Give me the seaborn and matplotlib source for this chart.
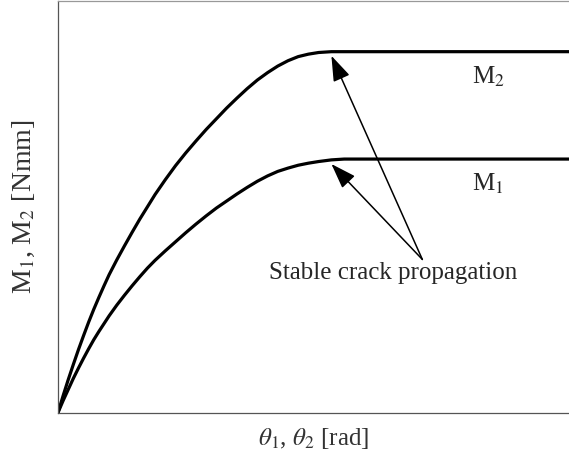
import matplotlib
matplotlib.use("Agg")
import matplotlib.pyplot as plt
import seaborn as sns
import pandas as pd

# Rotation (normalised) and the moment of each arm (normalised)
theta = [0.0, 0.01, 0.02, 0.03, 0.04, 0.05, 0.06, 0.07, 0.08, 0.09, 0.10,
         0.115, 0.13, 0.145, 0.16, 0.175, 0.19, 0.21, 0.23, 0.25, 0.27, 0.29,
         0.31, 0.33, 0.35, 0.37, 0.39, 0.41, 0.43, 0.45, 0.47, 0.49, 0.51,
         0.535, 0.56, 1.0]
moment_1 = [0.0, 0.029, 0.056, 0.083, 0.108, 0.132, 0.155, 0.177, 0.197, 0.216,
            0.235, 0.261, 0.285, 0.308, 0.330, 0.351, 0.370, 0.393, 0.415,
            0.437, 0.458, 0.478, 0.497, 0.514, 0.531, 0.547, 0.562, 0.575,
            0.586, 0.594, 0.601, 0.606, 0.610, 0.614, 0.616, 0.616]
moment_2 = [0.0, 0.041, 0.080, 0.117, 0.153, 0.187, 0.220, 0.251, 0.280, 0.308,
            0.335, 0.371, 0.405, 0.438, 0.470, 0.500, 0.530, 0.566, 0.600,
            0.631, 0.660, 0.688, 0.714, 0.740, 0.764, 0.787, 0.808, 0.826,
            0.842, 0.855, 0.865, 0.871, 0.875, 0.877, 0.877, 0.877]

curve_names = ["M$_1$", "M$_2$"]
annotation_text = "Stable crack propagation"

df = pd.concat([
    pd.DataFrame({"theta": theta, "moment": moment_1, "curve": curve_names[0]}),
    pd.DataFrame({"theta": theta, "moment": moment_2, "curve": curve_names[1]}),
])

sns.set_theme(style="white")
plt.rcParams["font.family"] = ["Liberation Serif", "DejaVu Serif"]
plt.rcParams["mathtext.fontset"] = "stix"

fig = plt.figure(figsize=(5.69, 4.67), dpi=100)
ax = fig.add_axes([0.102, 0.1167, 0.898, 0.881])

sns.lineplot(data=df, x="theta", y="moment", hue="curve",
             palette=["black", "black"], linewidth=2.3, estimator=None,
             legend=False, ax=ax)

ax.set_xlim(0, 1)
ax.set_ylim(0, 1)
ax.set_xticks([])
ax.set_yticks([])
ax.set_xlabel(r"$\theta_1$, $\theta_2$ [rad]", fontsize=18, color="#333333",
              labelpad=10)
ax.set_ylabel("M$_1$, M$_2$ [Nmm]", fontsize=20, color="#333333", labelpad=15)

for side in ["left", "bottom"]:
    ax.spines[side].set_color("#555555")
    ax.spines[side].set_linewidth(0.9)
ax.spines["top"].set_color("#999999")
ax.spines["top"].set_linewidth(0.9)
ax.spines["right"].set_visible(False)

# Curve names beside the plateaus
ax.text(0.81, moment_2[-1] - 0.06, curve_names[1], fontsize=18,
        ha="left", va="center")
ax.text(0.81, moment_1[-1] - 0.06, curve_names[0], fontsize=18,
        ha="left", va="center")

# Arrows from the caption to the end of each rising branch
tail = (0.713, 0.372)
arrow_style = dict(arrowstyle="-|>,head_length=1.3,head_width=0.45",
                   color="black", lw=1.1, shrinkA=0, shrinkB=0)
ax.annotate("", xy=(0.535, moment_2[-3] - 0.01), xytext=tail,
            arrowprops=arrow_style)
ax.annotate("", xy=(0.535, moment_1[-3] - 0.01), xytext=tail,
            arrowprops=arrow_style)
ax.text(0.655, 0.34, annotation_text, fontsize=18, ha="center", va="center")

fig.savefig("out.png", dpi=100)
